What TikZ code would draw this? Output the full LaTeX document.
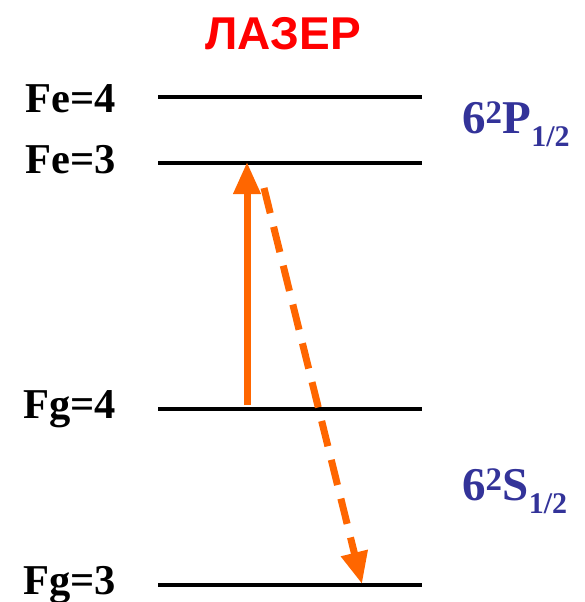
\documentclass[tikz,border=0pt]{standalone}
\usepackage{fontspec}
\setmainfont{Liberation Serif}
\newfontfamily\lsans{Liberation Sans}
\usetikzlibrary{arrows.meta}
\definecolor{laserorange}{HTML}{FF6600}
\definecolor{stateblue}{HTML}{333399}
\begin{document}
\begin{tikzpicture}[x=1pt,y=-1pt,
  level/.style={line width=4pt},
  lvllabel/.style={anchor=base east,inner sep=0pt,font=\fontsize{42.5}{44}\selectfont\bfseries},
  statelabel/.style={anchor=base west,inner sep=0pt,text=stateblue,font=\fontsize{47}{49}\selectfont\bfseries},
  trans/.style={laserorange,line width=7pt,-{Triangle[length=32pt,width=26pt]}}]
\useasboundingbox (0,0) rectangle (585,602);
% levels
\coordinate (e4l) at (158,97);  \coordinate (e4r) at (422,97);
\coordinate (e3l) at (158,163); \coordinate (e3r) at (422,163);
\coordinate (g4l) at (158,409); \coordinate (g4r) at (422,409);
\coordinate (g3l) at (158,585); \coordinate (g3r) at (422,585);
\draw[level] (e4l) -- (e4r);
\draw[level] (e3l) -- (e3r);
\draw[level] (g4l) -- (g4r);
\draw[level] (g3l) -- (g3r);
% labels
\node[lvllabel] (le4) at (116,112) {Fe=4};
\node[lvllabel] (le3) at (116,173) {Fe=3};
\node[lvllabel] (lg4) at (116,418) {Fg=4};
\node[lvllabel] (lg3) at (116,594) {Fg=3};
\node[anchor=base,inner sep=0pt,text=red,font=\lsans\fontsize{46}{48}\selectfont\bfseries] (title) at (283,50) {ЛАЗЕР};
\node[statelabel] (sp) at (462,133) {6\textsuperscript{2}P\raisebox{-0.28em}{\fontsize{30}{32}\selectfont 1/2}};
\node[statelabel] (ss) at (462,500) {6\textsuperscript{2}S\raisebox{-0.28em}{\fontsize{30}{32}\selectfont 1/2}};
% transitions
\coordinate (up0) at (247,405);
\coordinate (up1) at (247,162);
\draw[trans] (up0) -- (up1);
\coordinate (dn0) at (264,188);
\coordinate (dn1) at (362,584);
\draw[trans,dash pattern=on 26pt off 14pt] (dn0) -- (dn1);
\end{tikzpicture}
\end{document}
